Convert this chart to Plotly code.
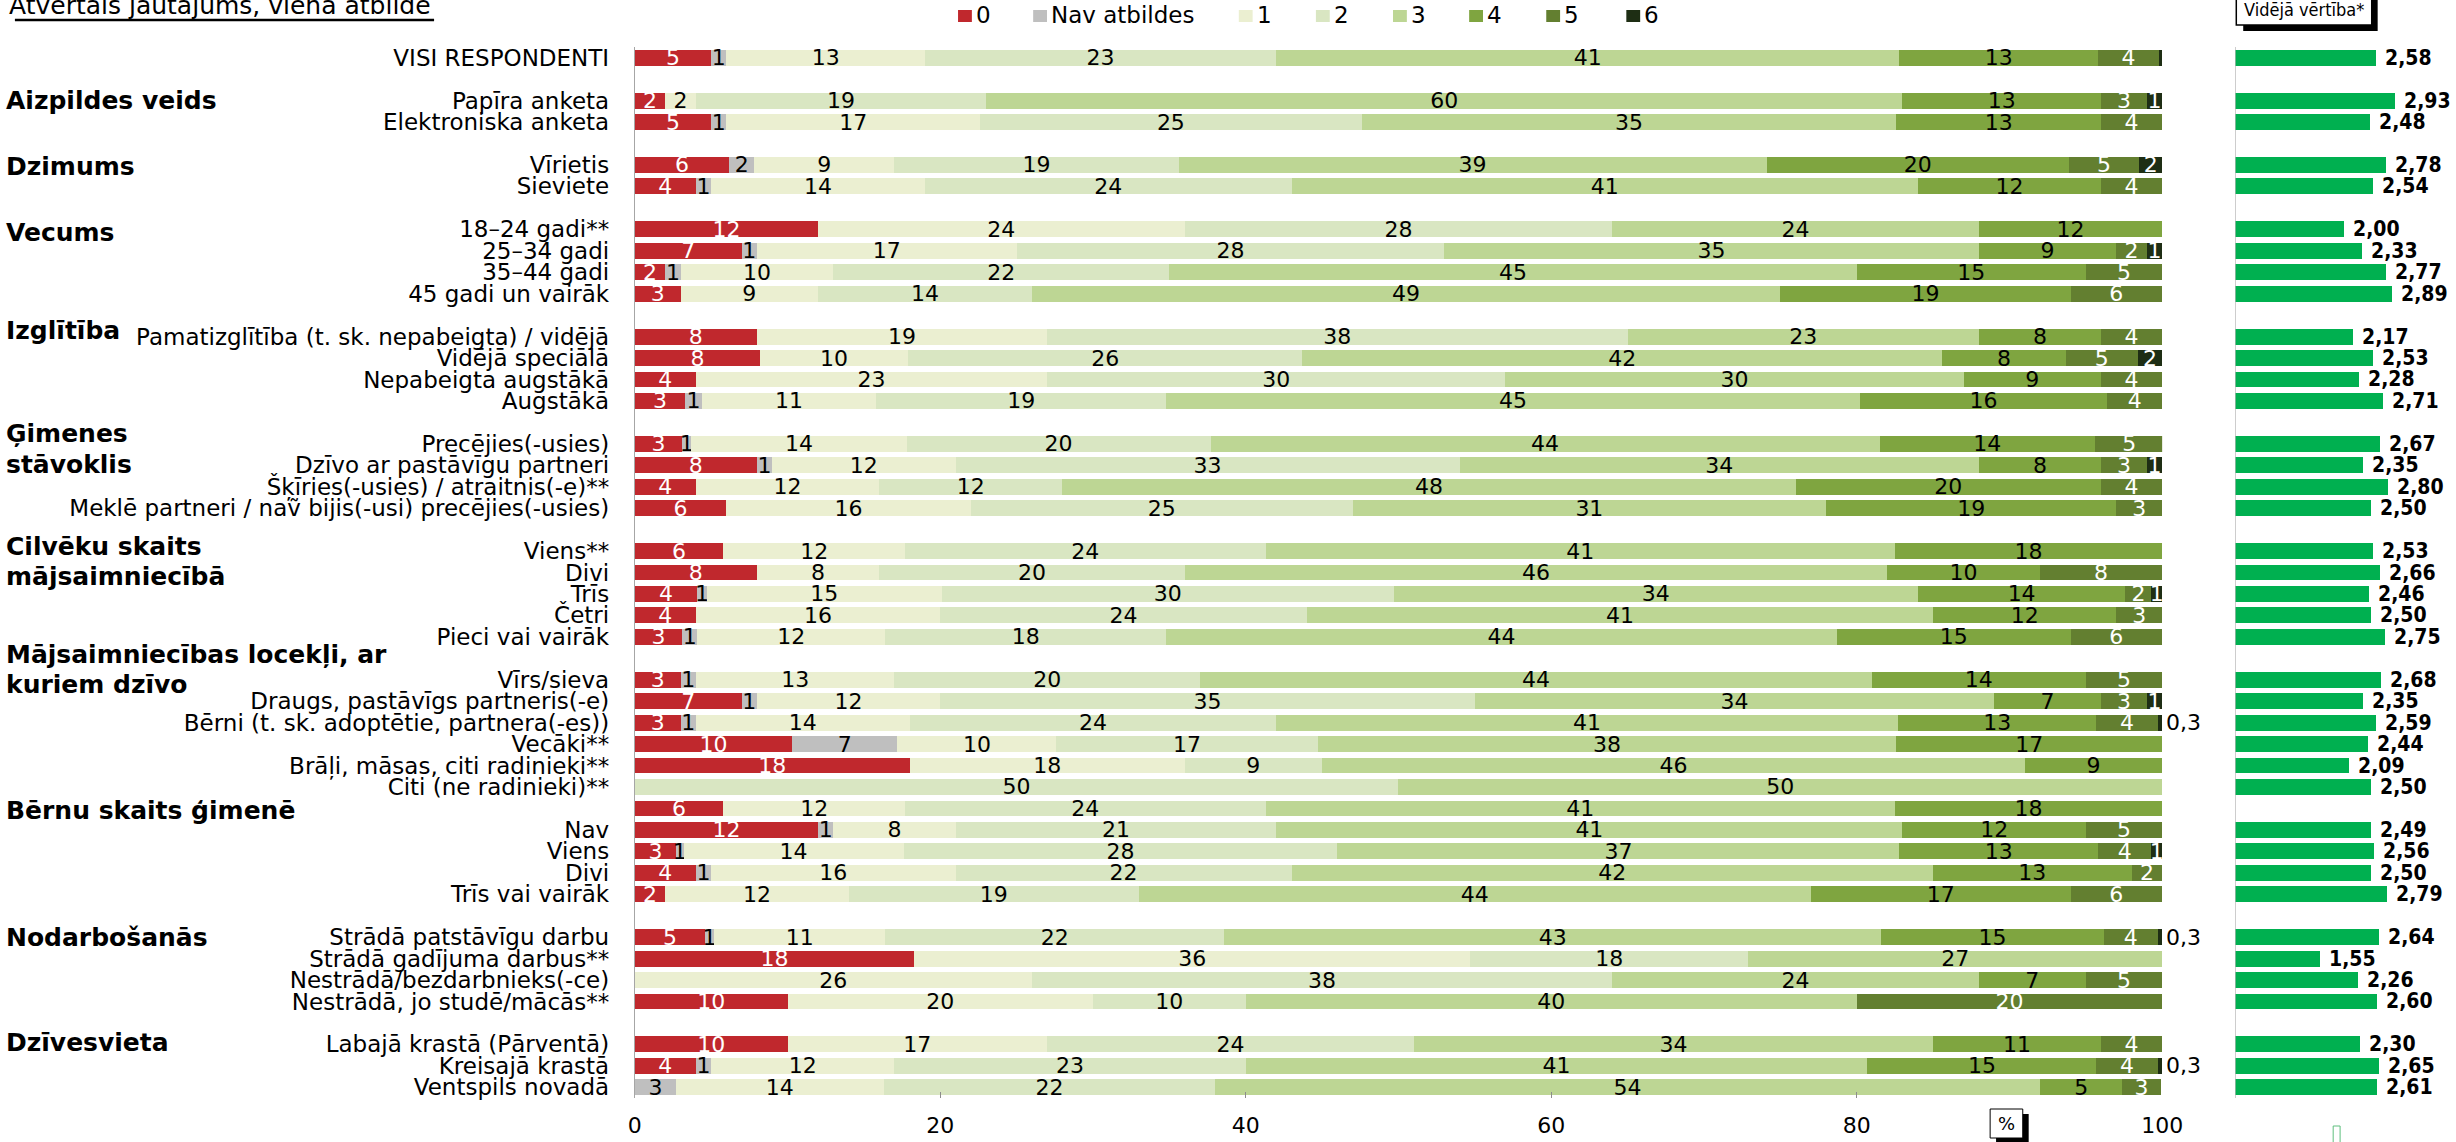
import plotly.graph_objects as go

W, H = 2456, 1142
MT, MB = 47, 44
PH = H - MT - MB

FONT = "DejaVu Sans, Verdana, sans-serif"
NARROW = "DejaVu Sans Condensed, DejaVu Sans, sans-serif"

# ---------------- data ----------------
categories = [
    "VISI RESPONDENTI", None,
    "Papīra anketa", "Elektroniska anketa", None,
    "Vīrietis", "Sieviete", None,
    "18–24 gadi**", "25–34 gadi", "35–44 gadi", "45 gadi un vairāk", None,
    "Pamatizglītība (t. sk. nepabeigta) / vidējā", "Vidējā speciālā", "Nepabeigta augstākā", "Augstākā", None,
    "Precējies(-usies)", "Dzīvo ar pastāvīgu partneri", "Šķīries(-usies) / atraitnis(-e)**",
    "Meklē partneri / naṽ bijis(-usi) precējies(-usies)", None,
    "Viens**", "Divi", "Trīs", "Četri", "Pieci vai vairāk", None,
    "Vīrs/sieva", "Draugs, pastāvīgs partneris(-e)", "Bērni (t. sk. adoptētie, partnera(-es))",
    "Vecāki**", "Brāļi, māsas, citi radinieki**", "Citi (ne radinieki)**",
    "",
    "Nav", "Viens", "Divi", "Trīs vai vairāk", None,
    "Strādā patstāvīgu darbu", "Strādā gadījuma darbus**", "Nestrādā/bezdarbnieks(-ce)",
    "Nestrādā, jo studē/mācās**", None,
    "Labajā krastā (Pārventā)", "Kreisajā krastā", "Ventspils novadā",
]

section_headers = [
    ("Aizpildes veids", 2.0), ("Dzimums", 5.05), ("Vecums", 8.15), ("Izglītība", 12.7),
    ("Ģimenes", 17.5), ("stāvoklis", 18.97), ("Cilvēku skaits", 22.8), ("mājsaimniecībā", 24.2),
    ("Mājsaimniecības locekļi, ar", 27.8), ("kuriem dzīvo", 29.2), ("Bērnu skaits ģimenē", 35.1),
    ("Nodarbošanās", 41.0), ("Dzīvesvieta", 45.9),
]

series_names = ["0", "Nav atbildes", "1", "2", "3", "4", "5", "6"]

v_0 = [5, 2, 5, 6.2, 4, 12, 7, 2, 3, 8, 8.2, 4, 3.3, 3.1, 8, 4, 6, 5.8, 8, 4.1,
       4, 3.1, 3, 7, 3, 10.3, 18, 0, 5.8, 12, 2.7, 4, 2, 4.6, 18.3, 0, 10, 10, 4, 0]
v_na = [1, 0, 1, 1.6, 1, 0, 1, 1, 0, 0, 0, 0, 1.1, 0.6, 1, 0, 0, 0, 0, 0.6,
        0, 1, 1, 1, 1, 6.9, 0, 0, 0, 1, 0.5, 1, 0, 0.6, 0, 0, 0, 0, 1, 2.7]
v_1 = [13, 2, 16.6, 9.2, 14, 24, 17, 10, 9, 19, 9.7, 23, 11.4, 14.1, 12, 12, 16, 11.9, 8, 15.4,
       16, 12.3, 13, 12, 14, 10.4, 18, 0, 11.9, 8, 14.4, 16, 12, 11.2, 36.4, 26, 20, 17, 12, 13.6]
v_2 = [23, 19, 25, 18.6, 24, 28, 28, 22, 14, 38, 25.8, 30, 19, 19.9, 33, 12, 25, 23.6, 20, 29.6,
       24, 18.4, 20, 35, 24, 17.1, 9, 50, 23.6, 21, 28.4, 22, 19, 22.2, 18.2, 38, 10, 24, 23, 21.7]
v_3 = [40.8, 60, 35, 38.5, 41, 24, 35, 45, 49, 23, 41.9, 30, 45.4, 43.8, 34, 48, 31, 41.2, 46, 34.3,
       41, 43.9, 44, 34, 40.7, 37.9, 46, 50, 41.2, 41, 36.8, 42, 44, 43, 27.1, 24, 40, 34, 40.7, 54]
v_4 = [13, 13, 13.4, 19.8, 12, 12, 9, 15, 19, 8, 8.1, 9, 16.2, 14.1, 8, 20, 19, 17.5, 10, 13.6,
       12, 15.3, 14, 7, 13, 17.4, 9, 0, 17.5, 12, 13, 13, 17, 14.6, 0, 7, 0, 11, 15, 5.4]
v_5 = [4, 3, 4, 4.6, 4, 0, 2, 5, 6, 4, 4.7, 4, 3.6, 4.5, 3, 4, 3, 0, 8, 1.7,
       3, 6, 5, 3, 4, 0, 0, 0, 0, 5, 3.5, 2, 6, 3.5, 0, 5, 20, 4, 4, 2.5]
v_6 = [0.2, 1, 0, 1.5, 0, 0, 1, 0, 0, 0, 1.6, 0, 0, 0, 1, 0, 0, 0, 0, 0.7,
       0, 0, 0, 1, 0.3, 0, 0, 0, 0, 0, 0.7, 0, 0, 0.3, 0, 0, 0, 0, 0.3, 0]

mean_values = [2.58, 2.93, 2.48, 2.78, 2.54, 2.00, 2.33, 2.77, 2.89, 2.17, 2.53, 2.28, 2.71,
               2.67, 2.35, 2.80, 2.50, 2.53, 2.66, 2.46, 2.50, 2.75, 2.68, 2.35, 2.59, 2.44,
               2.09, 2.50, None, 2.49, 2.56, 2.50, 2.79, 2.64, 1.55, 2.26, 2.60, 2.30, 2.65, 2.61]

series_values = [v_0, v_na, v_1, v_2, v_3, v_4, v_5, v_6]
series_colors = ["#c0282d", "#bfbfbf", "#ebefd1", "#d9e6c2", "#bdd694", "#7fa540", "#637f30", "#1e2e14"]
text_colors = ["white", "black", "black", "black", "black", "black", "white", "white"]


# ---------------- helpers (px -> paper) ----------------
def px_x(sx):
    return sx / W


def px_y(sy):
    return 1 - (sy - MT) / PH


def seg_label(v):
    return str(int(v + 0.5)) if v >= 0.5 else ""


def fmt_lv(v, d):
    return f"{v:.{d}f}".replace(".", ",")


slots = [i for i, c in enumerate(categories) if c is not None]
labels = [categories[i] for i in slots]

fig = go.Figure()

for name, vals, col, tcol in zip(series_names, series_values, series_colors, text_colors):
    fig.add_trace(go.Bar(
        orientation="h", y=slots, x=vals, name=name,
        marker=dict(color=col, line=dict(width=0)),
        text=[seg_label(v) for v in vals], textposition="inside",
        insidetextanchor="middle", textangle=0, constraintext="none",
        textfont=dict(family=FONT, size=22, color=tcol),
        width=0.74, showlegend=False, hoverinfo="skip",
        xaxis="x", yaxis="y",
    ))

mean_y = [s for s, m in zip(slots, mean_values) if m is not None]
mean_x = [m for m in mean_values if m is not None]
fig.add_trace(go.Bar(
    orientation="h", y=mean_y, x=mean_x, marker=dict(color="#00b050", line=dict(width=0)),
    width=0.74, showlegend=False, hoverinfo="skip", xaxis="x2", yaxis="y",
))

annotations = []
shapes = []

# mean value labels
for y, m in zip(mean_y, mean_x):
    annotations.append(dict(
        x=m, y=y, xref="x2", yref="y", text=fmt_lv(m, 2), showarrow=False,
        xanchor="left", yanchor="middle", xshift=7,
        font=dict(family=NARROW, size=21, color="black", weight="bold"),
    ))

# tiny "6" values written outside the bar
for y, vals in zip(slots, zip(*series_values)):
    small = vals[-1]
    if 0.25 <= small < 0.5:
        annotations.append(dict(
            x=sum(vals), y=y, xref="x", yref="y", text=fmt_lv(small, 1), showarrow=False,
            xanchor="left", yanchor="middle", xshift=2,
            font=dict(family=FONT, size=22, color="black"),
        ))

# section headers
for txt, yy in section_headers:
    annotations.append(dict(
        x=px_x(-3), y=yy, xref="paper", yref="y", text=f"<b>{txt}</b>", showarrow=False,
        xanchor="left", yanchor="middle", font=dict(family=FONT, size=25, color="black"),
    ))

# title (cut at the top edge) with underline
annotations.append(dict(
    x=px_x(0), y=px_y(6), xref="paper", yref="paper", text="Atvērtais jautājums, viena atbilde",
    showarrow=False, xanchor="left", yanchor="middle",
    font=dict(family=FONT, size=25, color="black"),
))
shapes.append(dict(type="line", xref="paper", yref="paper", x0=px_x(8), x1=px_x(432),
                   y0=px_y(20), y1=px_y(20), line=dict(color="black", width=2.5)))

# manual legend
legend_sq_x = [962, 1038, 1246, 1324, 1402, 1479, 1557, 1638]
for name, col, lx in zip(series_names, series_colors, legend_sq_x):
    shapes.append(dict(type="rect", xref="paper", yref="paper",
                       x0=px_x(lx), x1=px_x(lx + 14), y0=px_y(22), y1=px_y(10),
                       fillcolor=col, line=dict(width=0)))
    annotations.append(dict(
        x=px_x(lx + 16), y=px_y(15), xref="paper", yref="paper", text=name, showarrow=False,
        xanchor="left", yanchor="middle", font=dict(family=FONT, size=23, color="black"),
    ))

# "Vidējā vērtība*" box with shadow
shapes.append(dict(type="rect", xref="paper", yref="paper", x0=px_x(2262), x1=px_x(2398),
                   y0=px_y(31), y1=px_y(0), fillcolor="black", line=dict(width=0)))
shapes.append(dict(type="rect", xref="paper", yref="paper", x0=px_x(2255), x1=px_x(2392),
                   y0=px_y(25), y1=px_y(-6), fillcolor="white", line=dict(color="black", width=1.5)))
annotations.append(dict(
    x=px_x(2323.5), y=px_y(10), xref="paper", yref="paper", text="Vidējā vērtība*", showarrow=False,
    xanchor="center", yanchor="middle", font=dict(family=NARROW, size=18, color="black"),
))

# "%" box with shadow
shapes.append(dict(type="rect", xref="paper", yref="paper", x0=px_x(2012), x1=px_x(2045),
                   y0=px_y(1143), y1=px_y(1114), fillcolor="black", line=dict(width=0)))
shapes.append(dict(type="rect", xref="paper", yref="paper", x0=px_x(2006), x1=px_x(2039),
                   y0=px_y(1138), y1=px_y(1109), fillcolor="white", line=dict(color="black", width=1)))
annotations.append(dict(
    x=px_x(2022.5), y=px_y(1123), xref="paper", yref="paper", text="%", showarrow=False,
    xanchor="center", yanchor="middle", font=dict(family=FONT, size=18, color="black"),
))

# small mark at the bottom right
shapes.append(dict(type="rect", xref="paper", yref="paper", x0=px_x(2353), x1=px_x(2360),
                   y0=px_y(1145), y1=px_y(1126), fillcolor="white",
                   line=dict(color="#5fbf7f", width=1)))

# axis line of the mean panel
shapes.append(dict(type="line", xref="x2", yref="y", x0=0, x1=0, y0=-0.5, y1=48.5,
                   line=dict(color="#a6a6a6", width=1)))

X2_START = 2254
fig.update_layout(
    width=W, height=H,
    margin=dict(l=0, r=0, t=MT, b=MB, pad=0),
    barmode="stack", bargap=0,
    plot_bgcolor="white", paper_bgcolor="white",
    font=dict(family=FONT, size=22, color="black"),
    showlegend=False,
    xaxis=dict(
        domain=[px_x(635), px_x(2180)], range=[0, 100], tickvals=[0, 20, 40, 60, 80, 100],
        ticks="inside", ticklen=6, tickcolor="#8c8c8c", showgrid=False, zeroline=False,
        showline=False, tickfont=dict(family=FONT, size=22, color="black"),
        ticklabelstandoff=12, anchor="y", fixedrange=True,
    ),
    xaxis2=dict(
        domain=[px_x(X2_START), 1.0], range=[0, (W - X2_START) / 55.0], visible=False, anchor="y",
    ),
    yaxis=dict(
        range=[48.5, -0.5], tickvals=slots, ticktext=labels, showgrid=False, zeroline=False,
        showline=True, linecolor="#a6a6a6", linewidth=1, ticks="", ticklabelstandoff=20,
        tickfont=dict(family=FONT, size=23, color="black"), anchor="x",
    ),
    annotations=annotations,
    shapes=shapes,
)

fig.write_html(
    "out.html",
    config={"displayModeBar": False, "staticPlot": True},
    post_script="document.body.style.margin='0';document.body.style.overflow='hidden';",
)
